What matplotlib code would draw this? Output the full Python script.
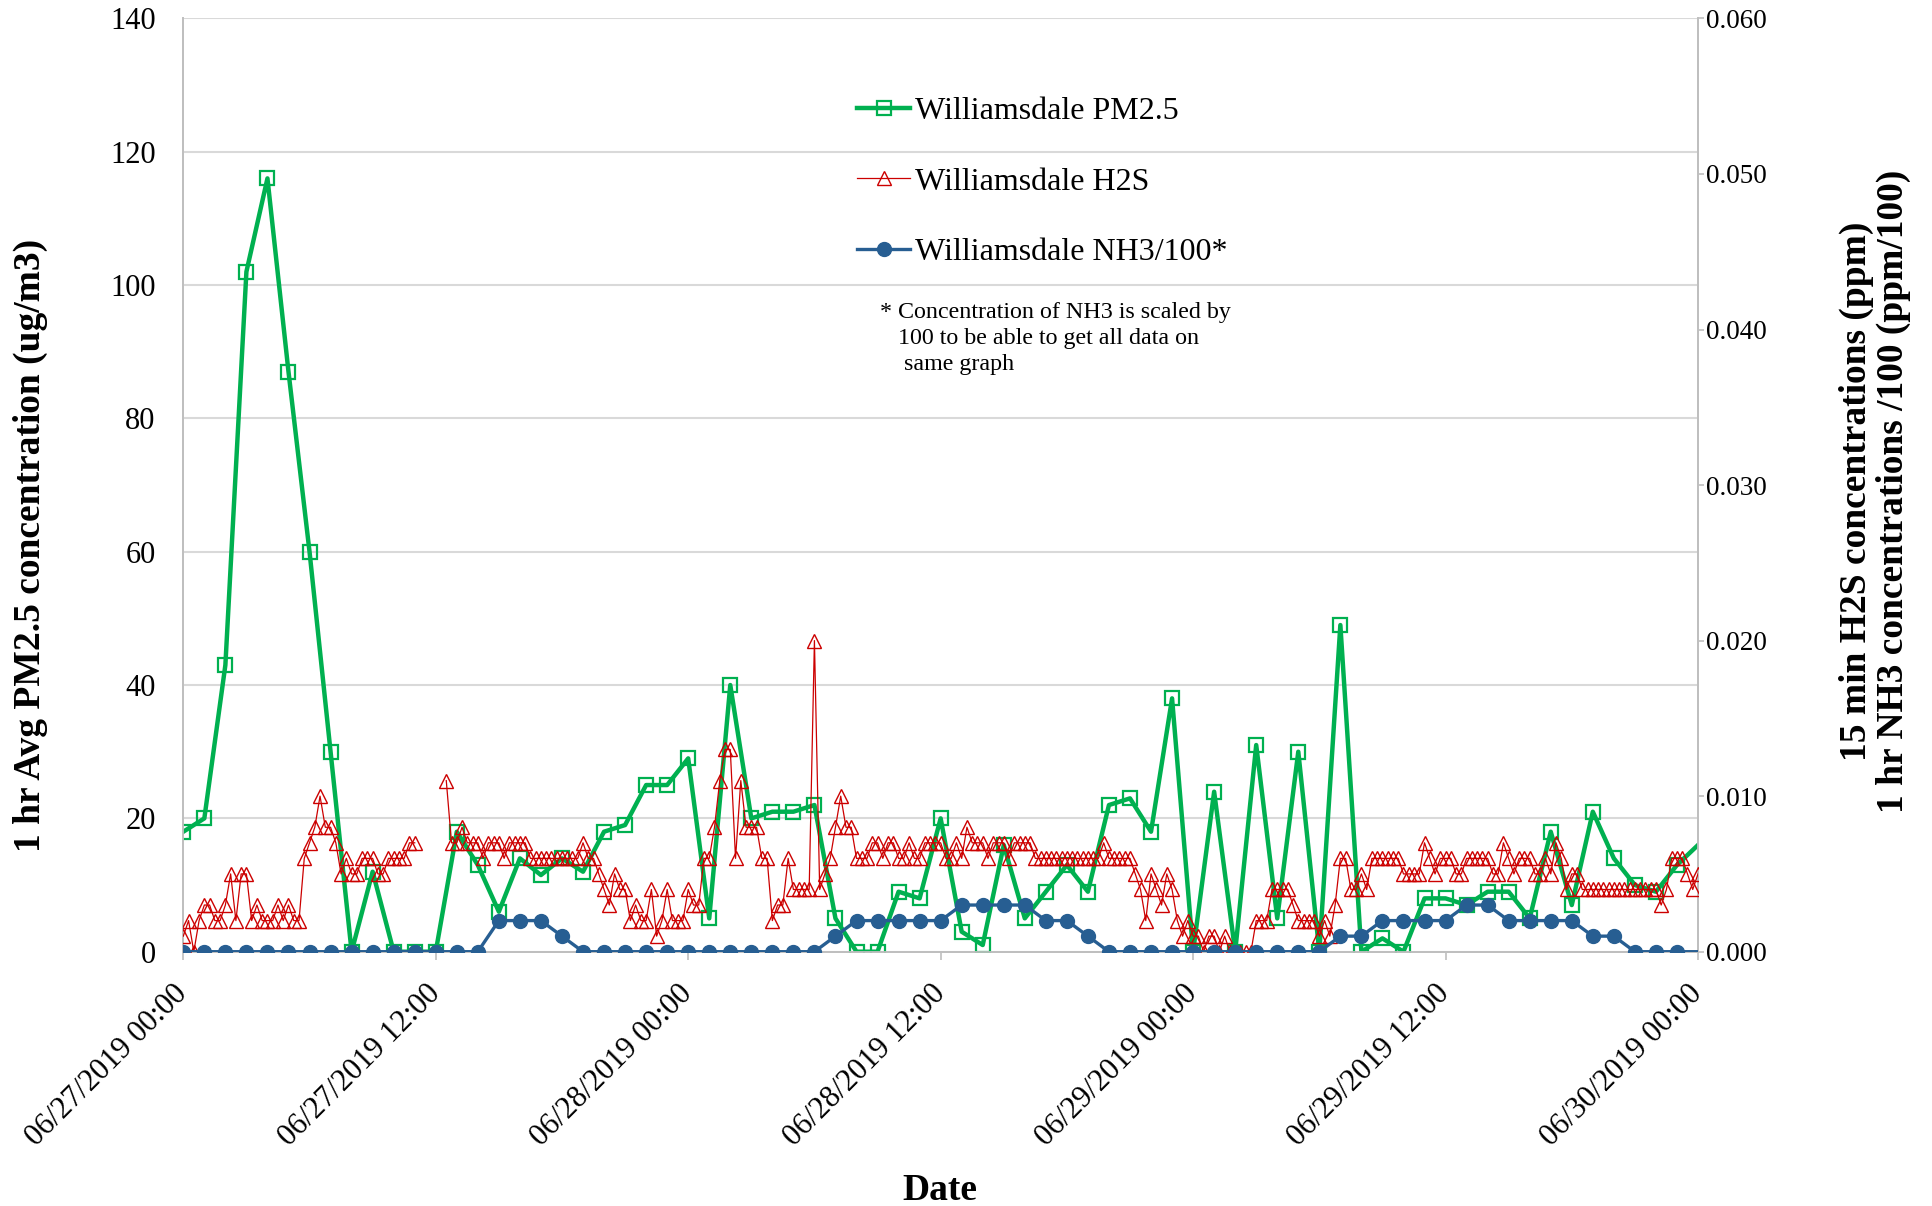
import numpy as np
import matplotlib
matplotlib.use('Agg')
import matplotlib.pyplot as plt
import matplotlib.dates as mdates
import pandas as pd
from matplotlib.ticker import MultipleLocator, FormatStrFormatter

plt.rcParams['font.family'] = ['Liberation Serif', 'DejaVu Serif']

nan = np.nan
start = pd.Timestamp('2019-06-27 00:00')

# hourly PM2.5 (ug/m3)
pm25 = [18, 20, 43, 102, 116, 87, 60, 30, 0, 12, 0, 0, 0, 18, 13, 6, 14, 11.5,
        14, 12, 18, 19, 25, 25, 29, 5, 40, 20, 21, 21, 22, 5, 0, 0, 9, 8, 20, 3,
        1, 16, 5, 9, 13, 9, 22, 23, 18, 38, 0, 24, 0, 31, 5, 30, 0, 49, 0, 2, 0,
        8, 8, 7, 9, 9, 5, 18, 7, 21, 14, 10, 9, 13, 16]

# hourly NH3 scaled by 100 (ppm/100)
nh3_scaled = [0.000] * 15 + [0.002] * 3 + [0.001] + [0.000] * 12 + [0.001] + \
             [0.002] * 5 + [0.003] * 4 + [0.002] * 2 + [0.001] + [0.000] * 11 + \
             [0.001] * 2 + [0.002] * 4 + [0.003] * 2 + [0.002] * 4 + [0.001] * 2 + \
             [0.000] * 4

# 15-min H2S (ppb)
h2s_ppb = [
    1, 2, 0, 2, 3, 3, 2, 2, 3, 5, 2, 5, 5, 2, 3, 2, 2, 2, 3, 2, 3, 2, 2, 6,
    7, 8, 10, 8, 8, 7, 5, 6, 5, 5, 6, 6, 6, 5, 5, 6, 6, 6, 6, 7, 7, nan, nan, nan,
    nan, nan, 11, 7, 7, 8, 7, 7, 7, 6, 7, 7, 7, 6, 7, 7, 7, 7, 6, 6, 6, 6, 6, 6,
    6, 6, 6, 6, 7, 6, 6, 5, 4, 3, 5, 4, 4, 2, 3, 2, 2, 4, 1, 2, 4, 2, 2, 2,
    4, 3, 3, 6, 6, 8, 11, 13, 13, 6, 11, 8, 8, 8, 6, 6, 2, 3, 3, 6, 4, 4, 4, 4,
    20, 4, 5, 6, 8, 10, 8, 8, 6, 6, 6, 7, 7, 6, 7, 7, 6, 6, 7, 6, 6, 7, 7, 7,
    7, 6, 6, 7, 6, 8, 7, 7, 7, 6, 7, 7, 7, 6, 7, 7, 7, 7, 6, 6, 6, 6, 6, 6,
    6, 6, 6, 6, 6, 6, 6, 7, 6, 6, 6, 6, 6, 5, 4, 2, 5, 4, 3, 5, 4, 2, 1, 2,
    1, 1, 0, 1, 1, 0, 1, 0, 0, 0, 0, 0, 2, 2, 2, 4, 4, 4, 4, 3, 2, 2, 2, 2,
    1, 2, 1, 3, 6, 6, 4, 4, 5, 4, 6, 6, 6, 6, 6, 6, 5, 5, 5, 5, 7, 6, 5, 6,
    6, 6, 5, 5, 6, 6, 6, 6, 6, 5, 5, 7, 6, 5, 6, 6, 6, 5, 5, 6, 5, 7, 6, 4,
    5, 5, 4, 4, 4, 4, 4, 4, 4, 4, 4, 4, 4, 4, 4, 4, 4, 3, 4, 6, 6, 6, 5, 4,
    5]

labels = ['Williamsdale PM2.5', 'Williamsdale H2S', 'Williamsdale NH3/100*']
note = '* Concentration of NH3 is scaled by\n   100 to be able to get all data on\n    same graph'

pm_t = pd.date_range(start, periods=len(pm25), freq='h').to_pydatetime()
h2s_t = pd.date_range(start, periods=len(h2s_ppb), freq='15min').to_pydatetime()
h2s_ppm = np.array(h2s_ppb, dtype=float) / 1000.0

W, H = 1932, 1206
fig = plt.figure(figsize=(W / 100, H / 100), dpi=100)
L, R, B, T = 183.3, 1698.0, 951.7, 18.4
ax = fig.add_axes([L / W, 1 - B / H, (R - L) / W, (B - T) / H])
ax2 = ax.twinx()

green = '#00B050'
red = '#CC0000'
blue = '#275E92'

l1, = ax.plot(pm_t, pm25, color=green, lw=3.2, marker='s', ms=10,
              mfc='none', mec=green, mew=1.6, markevery=list(range(len(pm25) - 1)),
              zorder=3)
l2, = ax2.plot(h2s_t, h2s_ppm, color=red, lw=0.9, marker='^', ms=9.5,
               mfc='none', mec=red, mew=1.0, zorder=3)
l3, = ax2.plot(pm_t, nh3_scaled, color=blue, lw=2.4, marker='o', ms=10,
               mfc=blue, mec=blue, markevery=list(range(len(nh3_scaled) - 1)),
               zorder=4)

ax.set_xlim(pm_t[0], pm_t[-1])
ax.set_ylim(0, 140)
ax2.set_ylim(0, 0.060)
ax.yaxis.set_major_locator(MultipleLocator(20))
ax2.yaxis.set_major_locator(MultipleLocator(0.010))
ax2.yaxis.set_major_formatter(FormatStrFormatter('%.3f'))
ax.xaxis.set_major_locator(mdates.HourLocator(byhour=[0, 12]))
ax.xaxis.set_major_formatter(mdates.DateFormatter('%m/%d/%Y %H:%M'))

ax.yaxis.grid(True, color='#D9D9D9', lw=1.5)
ax.set_axisbelow(True)

for a in (ax, ax2):
    for s in a.spines.values():
        s.set_color('#BFBFBF')
        s.set_linewidth(1.3)
    a.spines['top'].set_visible(False)

ax.tick_params(axis='y', length=0, pad=20, labelsize=22)
ax2.tick_params(axis='y', length=4, width=1.2, color='#BFBFBF', direction='out',
                pad=2, labelsize=19.5)
ax.tick_params(axis='x', length=6, width=1.2, color='#BFBFBF', direction='out',
               pad=21, labelsize=22)
for lab in ax.get_xticklabels():
    lab.set_rotation(45)
    lab.set_ha('right')
    lab.set_va('center')
    lab.set_rotation_mode('anchor')

leg = ax2.legend([l1, l2, l3], labels, loc='upper left',
                 bbox_to_anchor=(857 / W, 1 - 97 / H), bbox_transform=fig.transFigure,
                 frameon=False, fontsize=23, handlelength=1.66, handletextpad=0.15,
                 labelspacing=1.28, borderpad=0, borderaxespad=0)

fig.text(880 / W, 1 - 302 / H, note, ha='left', va='top', fontsize=17.3,
         linespacing=1.32)

fig.text(30 / W, 1 - 545 / H, '1 hr Avg PM2.5 concentration (ug/m3)', rotation=90,
         ha='center', va='center', fontsize=27, fontweight='bold')
fig.text(1875 / W, 1 - 491 / H,
         '15 min H2S concentrations (ppm)\n1 hr NH3 concentrations /100 (ppm/100)',
         rotation=90, ha='center', va='center', multialignment='center',
         fontsize=27, fontweight='bold', linespacing=1.1)
fig.text(940 / W, 1 - 1190 / H, 'Date', ha='center', va='center', fontsize=27,
         fontweight='bold')

fig.savefig('out.png', dpi=100)
